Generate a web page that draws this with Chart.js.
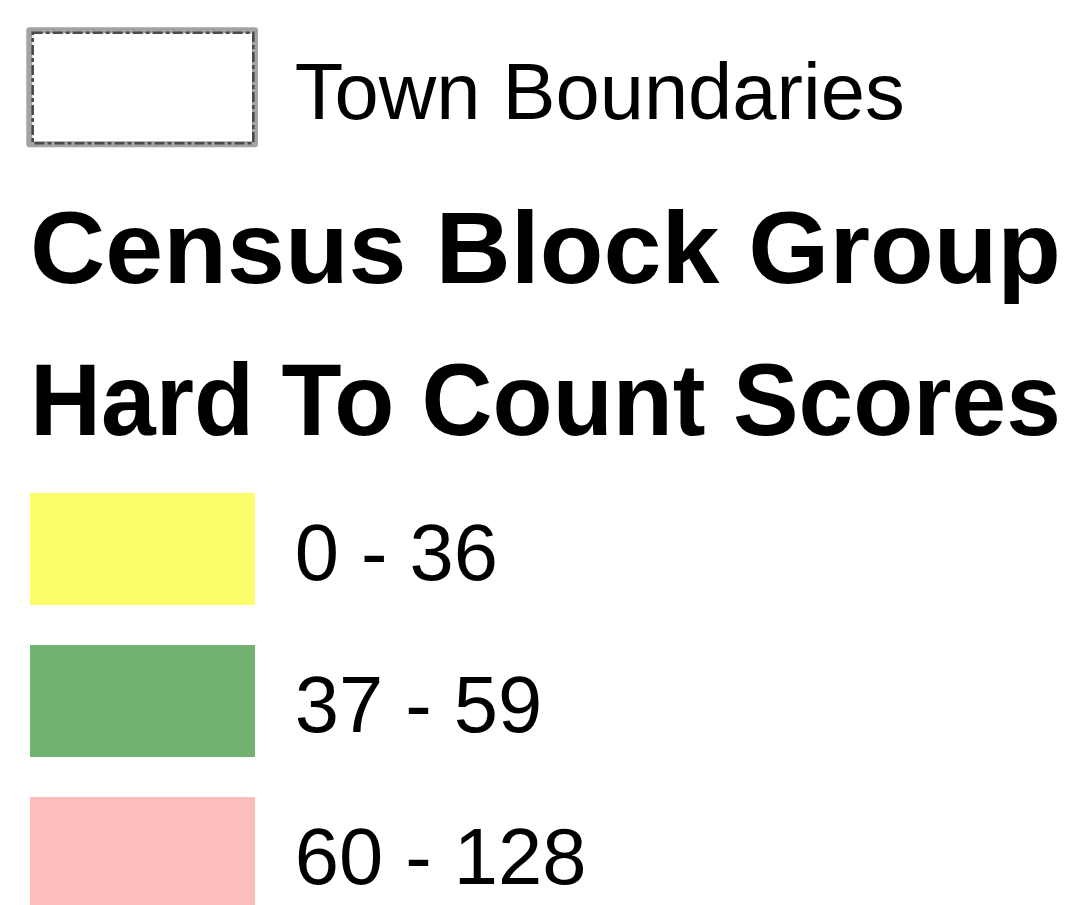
<!DOCTYPE html>
<html>
<head>
<meta charset="utf-8">
<title>Census Block Group Hard To Count Scores</title>
<script src="https://cdn.jsdelivr.net/npm/chart.js@4.4.1/dist/chart.umd.min.js"></script>
<style>
  html, body { margin: 0; padding: 0; background: #fff; overflow: hidden; }
  canvas { display: block; }
</style>
</head>
<body>
<canvas id="legendChart" width="1072" height="905"></canvas>
<script>
// legend content
const boundaryLabel = "Town Boundaries";
const titleLines = ["Census Block Group", "Hard To Count Scores"];
const classMin = [0, 37, 60];
const classMax = [36, 59, 128];
const classColors = ["#fdfd6c", "#72b372", "#fdbdbd"];

const classLabels = classMin.map((v, i) => v + " - " + classMax[i]);

// layout
const FONT = '"Liberation Sans", Arial, Helvetica, sans-serif';
const BOX_X = 30, BOX_W = 225, BOX_H = 112, ROW = 152;
const LABEL_SIZE = 79.5, TITLE_SIZE = 102, TITLE_W = 1031;
const TOWN_TOP = 32, TITLE_BASE = 283, CLASS_TOP = 493;

const legendPanel = {
  id: "legendPanel",
  afterDraw(chart) {
    const ctx = chart.ctx;
    const textX = BOX_X + BOX_W + LABEL_SIZE / 2;
    ctx.save();

    // town boundaries: grey outline with a dashed dark line inside
    ctx.fillStyle = "#ffffff";
    ctx.fillRect(BOX_X, TOWN_TOP, BOX_W, BOX_H);
    ctx.lineJoin = "round";
    ctx.strokeStyle = "#a3a3a3";
    ctx.lineWidth = 6;
    ctx.strokeRect(BOX_X - 0.7, TOWN_TOP - 1.7, BOX_W + 0.7, BOX_H + 2);
    ctx.lineJoin = "miter";
    ctx.strokeStyle = "#4a4a4a";
    ctx.lineWidth = 2.6;
    ctx.setLineDash([10, 3, 4, 3]);
    ctx.strokeRect(BOX_X + 2.7, TOWN_TOP + 0.7, BOX_W - 4.4, BOX_H - 1.4);
    ctx.setLineDash([]);

    ctx.fillStyle = "#000000";
    ctx.textAlign = "left";
    ctx.textBaseline = "alphabetic";
    ctx.font = LABEL_SIZE + "px " + FONT;
    ctx.fillText(boundaryLabel, textX, TOWN_TOP + 87);

    // heading, each line set to the same width
    ctx.font = "bold " + TITLE_SIZE + "px " + FONT;
    titleLines.forEach((line, i) => {
      const w = ctx.measureText(line).width;
      ctx.save();
      ctx.translate(BOX_X, TITLE_BASE + i * ROW);
      ctx.scale(TITLE_W / w, 1);
      ctx.fillText(line, 0, 0);
      ctx.restore();
    });

    // class swatches
    ctx.font = LABEL_SIZE + "px " + FONT;
    classLabels.forEach((label, i) => {
      const top = CLASS_TOP + i * ROW;
      ctx.fillStyle = classColors[i];
      ctx.fillRect(BOX_X, top, BOX_W, BOX_H);
      ctx.fillStyle = "#000000";
      ctx.fillText(label, textX, top + 87);
    });

    ctx.restore();
  }
};

new Chart(document.getElementById("legendChart").getContext("2d"), {
  type: "bar",
  data: { labels: classLabels, datasets: [] },
  options: {
    responsive: false,
    animation: false,
    events: [],
    layout: { padding: 0 },
    plugins: {
      legend: { display: false },
      title: { display: false },
      tooltip: { enabled: false }
    },
    scales: {
      x: { display: false },
      y: { display: false }
    }
  },
  plugins: [legendPanel]
});
</script>
</body>
</html>
